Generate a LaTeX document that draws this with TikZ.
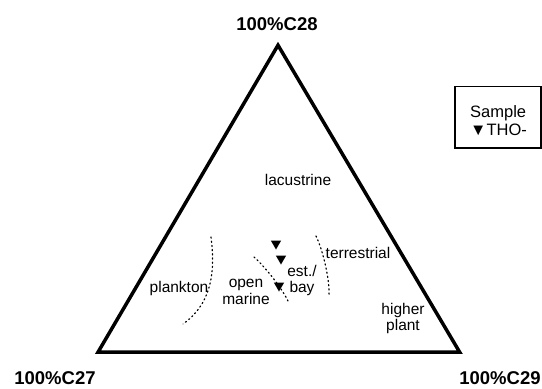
\documentclass[tikz,border=0pt]{standalone}
\usepackage{fontspec}
\setmainfont{Liberation Sans}
\usetikzlibrary{shapes.geometric}

\tikzset{
    zone/.style={font=\fontsize{15.5}{16.5}\selectfont, align=center, inner sep=0pt},
    endmember/.style={font=\bfseries\fontsize{18.5}{20}\selectfont, inner sep=0pt},
    samplemark/.style={regular polygon, regular polygon sides=3, shape border rotate=180,
        fill=black, inner sep=0pt, minimum size=12pt},
    boundary/.style={line width=1.2pt, dash pattern=on 1.2pt off 3pt, line cap=round},
}

\begin{document}
\begin{tikzpicture}[x=1pt, y=-1pt]
    \useasboundingbox (0,0) rectangle (542,389);
    % ternary frame
    \coordinate (c27) at (98,352.2);
    \coordinate (c28) at (278,45.2);
    \coordinate (c29) at (459.7,352.2);
    \draw[line width=3.5pt, line join=miter] (c27) -- (c28) -- (c29) -- cycle;
    % end members
    \node[endmember] (lab28) at (277,24) {100\%C28};
    \node[endmember] (lab27) at (55,378) {100\%C27};
    \node[endmember] (lab29) at (500,378) {100\%C29};
    % environments
    \node[zone] (lacustrine) at (298,180) {lacustrine};
    \node[zone] (plankton) at (179,288) {plankton};
    \node[zone] (openmarine) at (246,292) {open\\marine};
    \node[zone] (estbay) at (302,280.5) {est./\\bay};
    \node[zone] (terrestrial) at (358,253) {terrestrial};
    \node[zone] (higherplant) at (403,318.5) {higher\\plant};
    % boundaries
    \coordinate (pk1) at (211,237);
    \coordinate (pk2) at (183,324);
    \draw[boundary] (pk1) .. controls (216,275) and (210,305) .. (pk2);
    \coordinate (om1) at (254,257);
    \coordinate (om2) at (288,301);
    \draw[boundary] (om1) .. controls (264,266) and (280,285) .. (om2);
    \coordinate (tr1) at (316,236);
    \coordinate (tr2) at (329,297);
    \draw[boundary] (tr1) .. controls (322,248) and (330,278) .. (tr2);
    % THO- samples
    \node[samplemark] (s1) at (276,243.5) {};
    \node[samplemark] (s2) at (281,258.5) {};
    \node[samplemark] (s3) at (279,285.5) {};
    % legend
    \node[draw, line width=1.3pt, minimum width=86pt, minimum height=61.3pt, inner sep=0pt]
        (legend) at (498.1,117.4) {};
    \node[zone, align=left, anchor=west, font=\fontsize{16.5}{18}\selectfont]
        (legendtext) at (470,121) {Sample\\▼THO-};
\end{tikzpicture}
\end{document}
